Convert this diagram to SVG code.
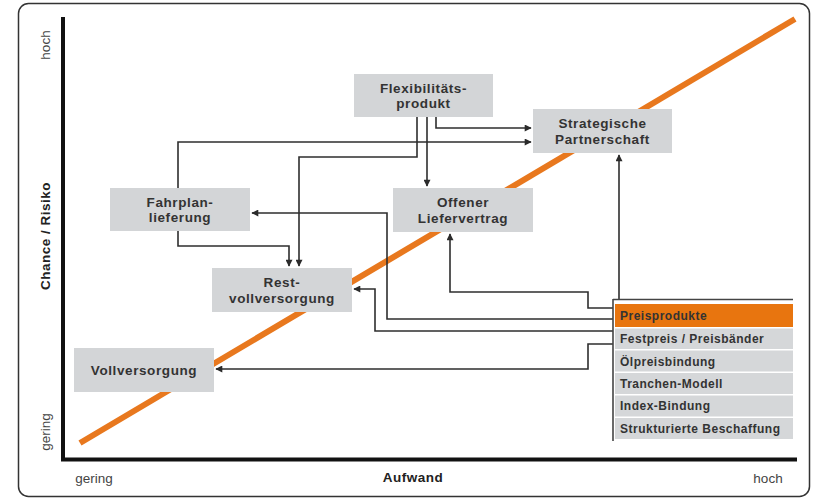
<svg xmlns="http://www.w3.org/2000/svg" width="823" height="499" viewBox="0 0 823 499">
<defs>
<marker id="arr" viewBox="0 0 10 10" refX="9" refY="5" markerWidth="8" markerHeight="7" markerUnits="userSpaceOnUse" orient="auto">
<path d="M0,0 L10,5 L0,10 z" fill="#2b2b2b"/>
</marker>
<style>
.node{fill:#d3d5d7}
.nt{font-family:"Liberation Sans",Arial,sans-serif;font-weight:bold;font-size:13.5px;letter-spacing:0.6px;fill:#333;text-anchor:middle}
.conn{fill:none;stroke:#2e2e2e;stroke-width:1.6}
.row{fill:#d5d7d9}
.rt{font-family:"Liberation Sans",Arial,sans-serif;font-weight:bold;font-size:12px;letter-spacing:0.5px;fill:#333}
.ax{font-family:"Liberation Sans",Arial,sans-serif;font-size:13.5px;fill:#444}
.axb{font-family:"Liberation Sans",Arial,sans-serif;font-size:13.5px;font-weight:bold;letter-spacing:0.5px;fill:#222}
</style>
</defs>
<rect x="18.5" y="3.5" width="791" height="493" rx="10" fill="#fff" stroke="#333" stroke-width="1.5"/>
<g id="axes">
<line x1="63" y1="17" x2="63" y2="461" stroke="#111" stroke-width="4"/>
<line x1="61" y1="459.5" x2="797" y2="459.5" stroke="#111" stroke-width="4"/>
<text class="ax" transform="translate(50,45) rotate(-90)" text-anchor="middle">hoch</text>
<text class="axb" transform="translate(50,236) rotate(-90)" text-anchor="middle">Chance / Risiko</text>
<text class="ax" transform="translate(50,432) rotate(-90)" text-anchor="middle">gering</text>
<text class="ax" x="94" y="483" text-anchor="middle">gering</text>
<text class="axb" x="413" y="482" text-anchor="middle">Aufwand</text>
<text class="ax" x="768" y="483" text-anchor="middle">hoch</text>
</g>
<line id="trend" x1="80" y1="443" x2="795" y2="19" stroke="#e8781e" stroke-width="6"/>
<g id="connectors">
<path class="conn" d="M436,117 V128 H531" marker-end="url(#arr)"/>
<path class="conn" d="M178,188 V142 H531" marker-end="url(#arr)"/>
<path class="conn" d="M427,117 V186" marker-end="url(#arr)"/>
<path class="conn" d="M417,117 V157 H299 V266" marker-end="url(#arr)"/>
<path class="conn" d="M178,231 V246 H289 V266" marker-end="url(#arr)"/>
<path class="conn" d="M613,319 H387 V213 H252" marker-end="url(#arr)"/>
<path class="conn" d="M613,331 H375 V289 H354" marker-end="url(#arr)"/>
<path class="conn" d="M613,308 H588 V292 H450 V234" marker-end="url(#arr)"/>
<path class="conn" d="M619,299 V155" marker-end="url(#arr)"/>
<path class="conn" d="M613,344 H588 V369 H216" marker-end="url(#arr)"/>
</g>
<g id="flex">
<rect class="node" x="354" y="74" width="139" height="43"/>
<text class="nt" x="423.5" y="92.5">Flexibilitäts-</text>
<text class="nt" x="423.5" y="108">produkt</text>
</g>
<g id="strategisch">
<rect class="node" x="533" y="109" width="139" height="44"/>
<text class="nt" x="602.5" y="128">Strategische</text>
<text class="nt" x="602.5" y="143.5">Partnerschaft</text>
</g>
<g id="offen">
<rect class="node" x="393" y="188" width="140" height="44"/>
<text class="nt" x="463" y="207">Offener</text>
<text class="nt" x="463" y="222.5">Liefervertrag</text>
</g>
<g id="fahrplan">
<rect class="node" x="110" y="188" width="140" height="43"/>
<text class="nt" x="180" y="206.5">Fahrplan-</text>
<text class="nt" x="180" y="222">lieferung</text>
</g>
<g id="rest">
<rect class="node" x="212" y="268" width="140" height="44"/>
<text class="nt" x="282" y="287">Rest-</text>
<text class="nt" x="282" y="302.5">vollversorgung</text>
</g>
<g id="voll">
<rect class="node" x="74" y="348" width="140" height="44"/>
<text class="nt" x="144" y="375">Vollversorgung</text>
</g>
<g id="preisprodukte">
<rect x="615" y="304" width="178" height="23" fill="#e8750f"/>
<rect class="row" x="615" y="328.5" width="178" height="20.5"/>
<rect class="row" x="615" y="350.5" width="178" height="21"/>
<rect class="row" x="615" y="373" width="178" height="21"/>
<rect class="row" x="615" y="395.5" width="178" height="21"/>
<rect class="row" x="615" y="418" width="178" height="21"/>
<line x1="613" y1="299.5" x2="793" y2="299.5" stroke="#444" stroke-width="1.6"/>
<line x1="613" y1="299" x2="613" y2="441" stroke="#444" stroke-width="1.6"/>
<text class="rt" x="620" y="320">Preisprodukte</text>
<text class="rt" x="620" y="343">Festpreis / Preisbänder</text>
<text class="rt" x="620" y="365.5">Ölpreisbindung</text>
<text class="rt" x="620" y="388">Tranchen-Modell</text>
<text class="rt" x="620" y="410">Index-Bindung</text>
<text class="rt" x="620" y="433">Strukturierte Beschaffung</text>
</g>
</svg>
